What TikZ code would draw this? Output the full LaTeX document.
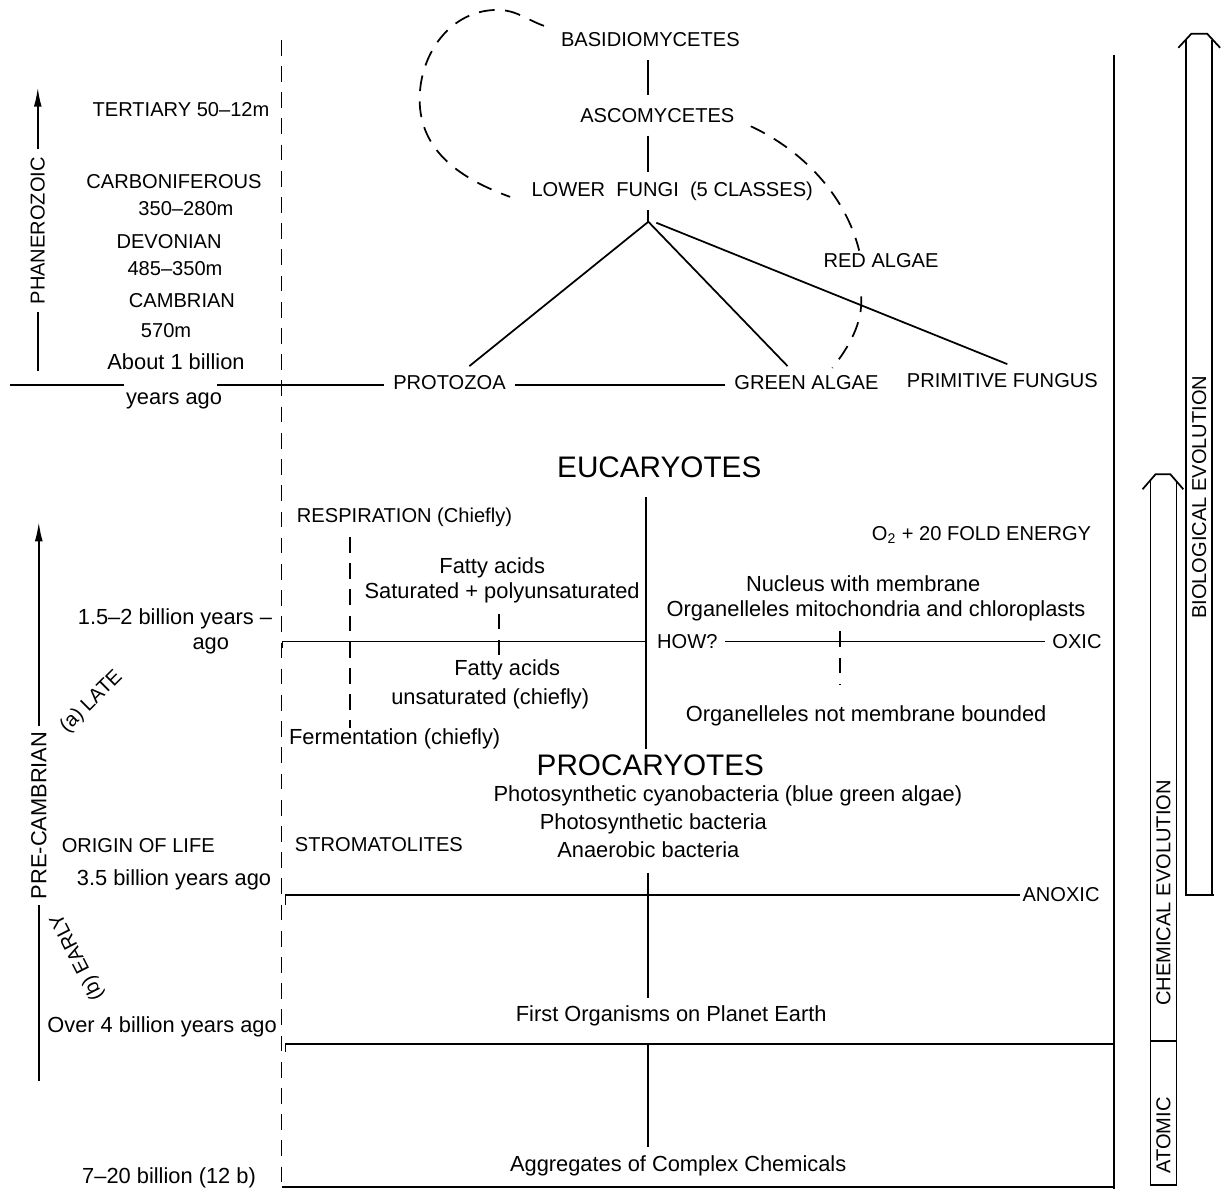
\documentclass[tikz,border=0pt]{standalone}
\usepackage{fontspec}
\setmainfont{Liberation Sans}
\usetikzlibrary{arrows.meta}
\tikzset{
  labtxt/.style={font=\fontsize{12.5}{14}\selectfont, inner sep=0.5pt},
  captxt/.style={font=\fontsize{11.5}{13}\selectfont, inner sep=1pt},
  bigtxt/.style={font=\fontsize{17}{19}\selectfont, inner sep=1pt},
  dashline/.style={dash pattern=on 9pt off 6pt},
  arr/.style={-{Latex[length=11pt,width=4.5pt]}}
}
\begin{document}
\begin{tikzpicture}[x=0.02cm,y=-0.02cm,line width=1pt]
\fill[white] (0,0) rectangle (1221,1196);
% time scale
\node[captxt] (tert) at (182,110) {TERTIARY 50--12m};
\node[captxt] (carb) at (175,183) {CARBONIFEROUS};
\node[captxt] (carbm) at (187,210) {350--280m};
\node[captxt] (devon) at (170,243) {DEVONIAN};
\node[captxt] (devonm) at (176,270) {485--350m};
\node[captxt] (camb) at (183,302) {CAMBRIAN};
\node[captxt] (cambm) at (167,332) {570m};
\node[labtxt] (about) at (177,364) {About 1 billion};
\node[labtxt] (yago) at (175,403) {years ago};
\node[captxt, rotate=90, inner sep=4pt] (phan) at (38,232) {PHANEROZOIC};
\coordinate (phtop) at (38,88);
\coordinate (phbot) at (38,373);
\draw[arr] (phan) -- (phtop);
\draw (phan) -- (phbot);
\node[labtxt] (bil15) at (176,622) {1.5--2 billion years --};
\node[labtxt] (ago15) at (212,650) {ago};
\node[captxt, rotate=45] (late) at (92,706) {(a) LATE};
\node[labtxt, rotate=90, inner sep=3pt] (precamb) at (39,820) {PRE-CAMBRIAN};
\coordinate (pctop) at (39,525);
\coordinate (pcbot) at (39,1087);
\draw[arr] (precamb) -- (pctop);
\draw (precamb) -- (pcbot);
\node[captxt] (origin) at (139,850) {ORIGIN OF LIFE};
\node[labtxt] (bil35) at (175,885) {3.5 billion years ago};
\node[captxt, rotate=117] (early) at (78,962) {(b) EARLY};
\node[labtxt] (bil4) at (163,1033) {Over 4 billion years ago};
\node[labtxt] (bil7) at (170,1184) {7--20 billion (12 b)};
\coordinate (dtop) at (283,40);
\coordinate (dbot) at (283,1196);
\draw[dashline] (dtop) -- (dbot);
% fungi and algae
\node[captxt] (basid) at (654,40) {BASIDIOMYCETES};
\node[captxt] (asco) at (661,116) {ASCOMYCETES};
\node[captxt] (lowfung) at (676,192) {LOWER\ \ FUNGI\ \ (5 CLASSES)};
\node[captxt] (redalg) at (886,262) {RED ALGAE};
\node[captxt, inner sep=5pt] (protozoa) at (452,385) {PROTOZOA};
\node[captxt, inner sep=5pt] (greenalg) at (811,385) {GREEN ALGAE};
\node[captxt, inner sep=5pt] (primfung) at (1008,383) {PRIMITIVE FUNGUS};
\coordinate (apex) at (652,223);
\coordinate (apex2) at (660,224);
\draw[shorten <=6pt, shorten >=6pt] (apex |- basid.south) -- (apex |- asco.north);
\draw[shorten <=6pt, shorten >=4pt] (apex |- asco.south) -- (apex |- lowfung.north);
\draw[shorten <=4pt] (apex |- lowfung.south) -- (apex);
\draw (apex) -- ([xshift=4mm]protozoa.north);
\draw (apex) -- ([xshift=-3.8mm]greenalg.north);
\draw (apex2) -- ([xshift=1mm]primfung.north);
\coordinate (tl0) at (10,387);
\coordinate (tl1) at (125,387);
\coordinate (tl2) at (218,387);
\draw (tl0) -- (tl1);
\draw (tl2) -- (protozoa.west |- tl2);
\draw (protozoa.east |- tl2) -- (greenalg.west |- tl2);
\coordinate (lp0) at (547,26);
\coordinate (lp1) at (513,198);
\draw[dashline] (lp0) to[out=160,in=0] (500,10) to[out=180,in=90] (422,100) to[out=-90,in=160] (lp1);
\coordinate (ra0) at (755,127);
\coordinate (ra1) at (864,252);
\coordinate (ra2) at (866,298);
\coordinate (ra3) at (837,370);
\draw[dashline] (ra0) .. controls (805,150) and (850,195) .. (ra1);
\draw[dashline] (ra2) .. controls (868,325) and (853,350) .. (ra3);
\coordinate (rtop) at (1120,55);
\coordinate (rbot) at (1120,1196);
\draw (rtop) -- (rbot);
% eucaryotes
\node[bigtxt] (eucar) at (663,470) {EUCARYOTES};
\coordinate (ve0) at (650,500);
\coordinate (ve1) at (650,753);
\draw (ve0) -- (ve1);
\node[captxt, anchor=west] (resp) at (296,520) {RESPIRATION (Chiefly)};
\node[labtxt] (fatty1) at (495,571) {Fatty acids};
\node[labtxt] (satpoly) at (505,596) {Saturated + polyunsaturated};
\node[labtxt] (fatty2) at (510,674) {Fatty acids};
\node[labtxt] (unsat) at (493,703) {unsaturated (chiefly)};
\node[labtxt, anchor=west] (ferm) at (289,743) {Fermentation (chiefly)};
\node[captxt] (o2) at (987,538) {O\textsubscript{2} + 20 FOLD ENERGY};
\node[labtxt] (nucl) at (868,587) {Nucleus with membrane};
\node[labtxt] (orgmit) at (881,614) {Organelleles mitochondria and chloroplasts};
\node[labtxt] (orgnot) at (871,720) {Organelleles not membrane bounded};
\node[captxt, inner sep=4pt, anchor=west] (how) at (653,645) {HOW?};
\node[captxt, inner sep=4pt] (oxic) at (1083,645) {OXIC};
\coordinate (ox0) at (284,652);
\coordinate (ox1) at (284,645);
\draw (ox0) -- (ox1) -- (ve0 |- ox1);
\draw (how) -- (oxic);
\coordinate (rs0) at (352,540);
\coordinate (rs1) at (352,732);
\draw[dashline] (rs0) -- (rs1);
\coordinate (fa0) at (502,617);
\coordinate (fa1) at (502,663);
\draw[dashline] (fa0) -- (fa1);
\coordinate (or0) at (845,635);
\coordinate (or1) at (845,688);
\draw[dashline] (or0) -- (or1);
% procaryotes
\node[bigtxt] (procar) at (654,770) {PROCARYOTES};
\node[labtxt] (cyano) at (732,800) {Photosynthetic cyanobacteria (blue green algae)};
\node[labtxt] (photob) at (657,828) {Photosynthetic bacteria};
\node[labtxt] (anaer) at (652,854) {Anaerobic bacteria};
\node[captxt, anchor=west] (strom) at (294,849) {STROMATOLITES};
\node[captxt] (anoxic) at (1067,900) {ANOXIC};
\coordinate (an0) at (287,910);
\coordinate (an1) at (287,900);
\draw (an0) -- (an1) -- (anoxic);
\node[labtxt, inner sep=4pt] (firstorg) at (675,1022) {First Organisms on Planet Earth};
\draw[shorten <=8pt] (anaer.south) -- (anaer.south |- firstorg.north);
\coordinate (fo0) at (287,1058);
\coordinate (fo1) at (287,1050);
\coordinate (fo2) at (1120,1050);
\draw (fo0) -- (fo1) -- (fo2);
\node[labtxt, inner sep=4pt] (aggr) at (682,1172) {Aggregates of Complex Chemicals};
\draw (anaer.south |- fo1) -- (anaer.south |- aggr.north);
\coordinate (bl0) at (284,1194);
\coordinate (bl1) at (1120,1194);
\draw (bl0) -- (bl1);
% evolution columns
\draw (1221,900) -- (1193,900) -- (1193,40);
\draw (1219,40) -- (1219,900);
\draw (1185,48) -- (1198,34) -- (1214,34) -- (1227,48);
\node[captxt, rotate=90] (biol) at (1206,500) {BIOLOGICAL EVOLUTION};
\draw (1157,484) -- (1157,1192) -- (1183,1192) -- (1183,484);
\draw (1149,492) -- (1162,477) -- (1177,477) -- (1190,492);
\draw (1157,1047) -- (1183,1047);
\node[captxt, rotate=90] (chem) at (1170,898) {CHEMICAL EVOLUTION};
\node[captxt, rotate=90] (atomic) at (1170,1142) {ATOMIC};
\end{tikzpicture}
\end{document}
